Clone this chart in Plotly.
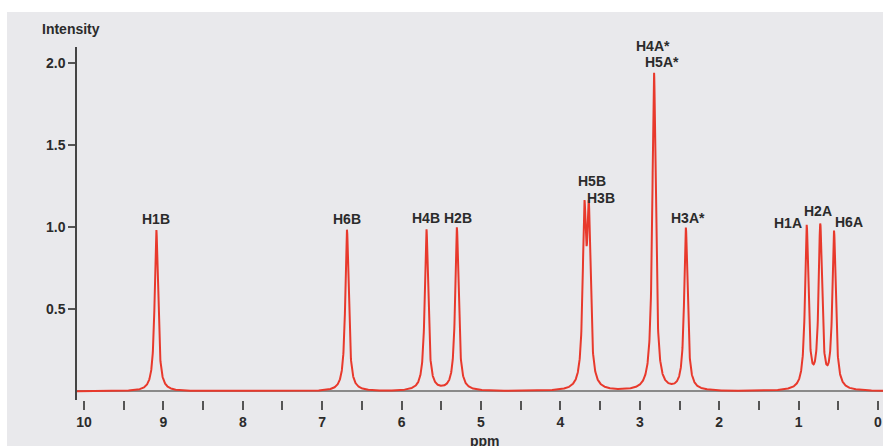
import numpy as np
import plotly.graph_objects as go

# ---- data ----
peak_ppm = [9.089, 6.688, 5.687, 5.304, 3.698, 3.642, 2.821, 2.420, 0.898, 0.727, 0.554]
peak_amp = [0.985, 0.985, 0.985, 0.995, 0.995, 0.995, 1.940, 0.990, 0.990, 0.985, 0.955]
peak_hwhm = [0.025] * 11

label_text = ["H1B", "H6B", "H4B", "H2B", "H5B", "H3B",
              "H4A*", "H5A*", "H3A*", "H1A", "H2A", "H6A"]
label_peak = [0, 1, 2, 3, 4, 5, 6, 6, 7, 8, 9, 10]

y_tick_vals = [0.5, 1.0, 1.5, 2.0]
y_tick_text = ["0.5", "1.0", "1.5", "2.0"]
x_tick_vals = [10, 9, 8, 7, 6, 5, 4, 3, 2, 1, 0]

# ---- label placement (pixels, relative to peak top) ----
label_dx = [0, 0, 0, 1, 8, 12, -1, 8, 2, -19, -2, 15]
label_dy = [11, 11, 11, 9, 20, 3, 26, 10, 10, 2, 12, 9]

# ---- spectrum as a sum of Lorentzian lines ----
grid = np.arange(10.2, -0.2, -0.002)


def spectrum(x):
    x = np.asarray(x, dtype=float)
    s = np.zeros_like(x)
    for p, a, w in zip(peak_ppm, peak_amp, peak_hwhm):
        s += a / (1.0 + ((x - p) / w) ** 2)
    return s


curve = spectrum(grid)

RED = "#e8392c"
TXT = "#2b2b2b"
BG = "#e9e9ec"
FONT = "Liberation Sans"

fig = go.Figure()
fig.add_trace(go.Scatter(x=grid, y=curve, mode="lines",
                         line=dict(color=RED, width=2), hoverinfo="skip",
                         showlegend=False))

annotations = []
for t, pi, dx, dy in zip(label_text, label_peak, label_dx, label_dy):
    px = peak_ppm[pi]
    py = float(spectrum([px])[0])
    annotations.append(dict(x=px, y=py, xref="x", yref="y", text=t,
                            showarrow=False, xanchor="center", yanchor="middle",
                            xshift=dx, yshift=dy,
                            font=dict(family=FONT, size=14, color=TXT, weight="bold")))

annotations.append(dict(x=-0.0459, y=1.051, xref="paper", yref="paper", text="Intensity",
                        showarrow=False, xanchor="left", yanchor="middle",
                        font=dict(family=FONT, size=14, color=TXT, weight="bold")))
annotations.append(dict(x=0.506, y=-0.116, xref="paper", yref="paper", text="ppm",
                        showarrow=False, xanchor="center", yanchor="middle",
                        font=dict(family=FONT, size=14, color=TXT, weight="bold")))

W, H = 883, 446
L, R, T, B = 77, 0, 47, 46
pw, ph = W - L - R, H - T - B

def fx(px):
    return (px - L) / pw

def fy(py):
    return (H - B - py) / ph

shapes = [
    dict(type="rect", xref="paper", yref="paper", x0=fx(0), x1=fx(W), y0=fy(12), y1=fy(0),
         fillcolor="white", line=dict(width=0), layer="above"),
    dict(type="rect", xref="paper", yref="paper", x0=fx(0), x1=fx(7), y0=fy(H), y1=fy(0),
         fillcolor="white", line=dict(width=0), layer="above"),
]

fig.update_layout(
    width=W, height=H,
    margin=dict(l=L, r=R, t=T, b=B, pad=0),
    paper_bgcolor=BG, plot_bgcolor=BG,
    annotations=annotations, shapes=shapes,
    font=dict(family=FONT, size=14, color=TXT),
    xaxis=dict(range=[10.088, -0.063], tickvals=x_tick_vals,
               ticks="outside", ticklen=9, tickwidth=1.5, tickcolor="#555",
               showline=False, showgrid=False, zeroline=False,
               tickfont=dict(family=FONT, size=14, color=TXT, weight="bold"),
               minor=dict(dtick=0.5, tick0=0, ticks="outside", ticklen=9,
                          tickwidth=1.5, tickcolor="#555", showgrid=False),
               fixedrange=True),
    yaxis=dict(range=[-0.052, 2.10], tickvals=y_tick_vals, ticktext=y_tick_text,
               ticks="outside", ticklen=7, tickwidth=1.5, tickcolor="#555",
               showline=True, linecolor="#444", linewidth=1.5,
               showgrid=False, zeroline=True, zerolinecolor="#8a8a8a", zerolinewidth=1.5,
               tickfont=dict(family=FONT, size=14, color=TXT, weight="bold"),
               fixedrange=True),
)

fig.write_html("out.html", config={"displayModeBar": False},
               post_script="document.body.style.margin='0';document.body.style.overflow='hidden';")
